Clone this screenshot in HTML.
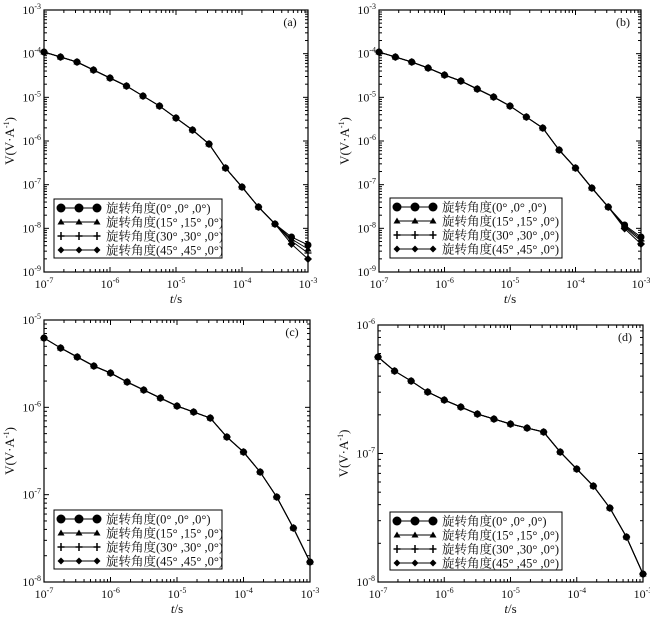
<!DOCTYPE html>
<html><head><meta charset="utf-8"><style>
body{margin:0;background:#fff}
svg{display:block}
text{font-family:"Liberation Serif","Times New Roman","Noto Serif CJK SC",serif;fill:#111}
</style></head><body>
<svg id="s" width="650" height="617" xmlns="http://www.w3.org/2000/svg"></svg>
<script>
const P=[
 {l:44,r:308,t:10,b:272,ymax:-3,ymin:-9,lab:'(a)',leg:[54,199,222,258],
  y:[52,57,62,70,78,86,96,106,118,130,144,168,187,207,224,239,249],end:[245,249,253,259]},
 {l:379,r:641,t:10,b:272,ymax:-3,ymin:-9,lab:'(b)',leg:[390,198,562,258],
  y:[52,57,62,68,75,81,89,97,106,117,128,150,168,188,207,226,239],end:[237,239,241,244]},
 {l:44,r:310,t:320,b:582,ymax:-5,ymin:-8,lab:'(c)',leg:[54,510,222,569],
  y:[338,348,357,366,373,382,390,398,406,412,418,437,452,472,497,528,562]},
 {l:378,r:643,t:325,b:582,ymax:-6,ymin:-8,lab:'(d)',leg:[390,512,562,570],
  y:[357,371,381,392,400,407,414,419,424,428,432,452,469,486,508,537,574]}
];
let h='';
const diam=(x,y,s)=>`<path d="M${x} ${y-s}L${x+s} ${y}L${x} ${y+s}L${x-s} ${y}Z" fill="#000"/>`;
for(const p of P){
 const W=p.r-p.l,H=p.b-p.t;
 h+=`<rect x="${p.l}" y="${p.t}" width="${W}" height="${H}" fill="none" stroke="#000" stroke-width="1.2"/>`;
 for(let d=0;d<=4;d++){
  const x=p.l+W*d/4;
  h+=`<line x1="${x}" y1="${p.b}" x2="${x}" y2="${p.b-5}" stroke="#000"/><line x1="${x}" y1="${p.t}" x2="${x}" y2="${p.t+5}" stroke="#000"/>`;
  h+=`<text x="${x}" y="${p.b+16}" font-size="12" text-anchor="middle">10<tspan font-size="8" dy="-5">${-7+d}</tspan></text>`;
  if(d<4)for(let m=2;m<10;m++){const xm=x+W/4*Math.log10(m);h+=`<line x1="${xm}" y1="${p.b}" x2="${xm}" y2="${p.b-3}" stroke="#000"/><line x1="${xm}" y1="${p.t}" x2="${xm}" y2="${p.t+3}" stroke="#000"/>`;}
 }
 const nd=p.ymax-p.ymin;
 for(let d=0;d<=nd;d++){
  const y=p.b-H*d/nd;
  h+=`<line x1="${p.l}" y1="${y}" x2="${p.l+5}" y2="${y}" stroke="#000"/><line x1="${p.r}" y1="${y}" x2="${p.r-5}" y2="${y}" stroke="#000"/>`;
  h+=`<text x="${p.l-3}" y="${y+4}" font-size="12" text-anchor="end">10<tspan font-size="8" dy="-5">${p.ymin+d}</tspan></text>`;
  if(d<nd)for(let m=2;m<10;m++){const ym=y-H/nd*Math.log10(m);h+=`<line x1="${p.l}" y1="${ym}" x2="${p.l+3}" y2="${ym}" stroke="#000"/><line x1="${p.r}" y1="${ym}" x2="${p.r-3}" y2="${ym}" stroke="#000"/>`;}
 }
 h+=`<text x="${(p.l+p.r)/2}" y="${p.b+31}" font-size="13" text-anchor="middle"><tspan font-style="italic">t</tspan>/s</text>`;
 const cy=(p.t+p.b)/2;
 h+=`<text transform="translate(${p.l-30},${cy}) rotate(-90)" font-size="13" text-anchor="middle">V(V·A<tspan font-size="8" dy="-5">-1</tspan><tspan dy="5">)</tspan></text>`;
 h+=`<text x="${p.r-18}" y="${p.t+16}" font-size="12" text-anchor="middle">${p.lab}</text>`;
 for(let s=0;s<4;s++){
  const pts=p.y.map((y,i)=>{let yy=y;if(p.end){const k=p.end[s]-p.y[16];if(i>=15)yy=y+k*(i-14)/2;}return [p.l+W*i/16,yy];});
  h+=`<polyline points="${pts.map(a=>a.join(',')).join(' ')}" fill="none" stroke="#000" stroke-width="1"/>`;
  for(const [x,y] of pts){
   if(s==0)h+=`<circle cx="${x}" cy="${y}" r="3.5" fill="#000"/>`;
   else if(s==1)h+=`<path d="M${x} ${y-3.5}L${x+3.5} ${y+2.5}L${x-3.5} ${y+2.5}Z" fill="#000"/>`;
   else if(s==2)h+=`<path d="M${x-3.5} ${y}H${x+3.5}M${x} ${y-3.5}V${y+3.5}" stroke="#000" stroke-width="1.3"/>`;
   else h+=diam(x,y,4);
  }
 }
 const [lx,ly,rx,by]=p.leg;
 h+=`<rect x="${lx}" y="${ly}" width="${rx-lx}" height="${by-ly}" fill="#fff" stroke="#000" stroke-width="1"/>`;
 const labs=['旋转角度(0° ,0° ,0°)','旋转角度(15° ,15° ,0°)','旋转角度(30° ,30° ,0°)','旋转角度(45° ,45° ,0°)'];
 for(let s=0;s<4;s++){
  const y=ly+9+s*14,x0=lx+7,x1=lx+43;
  h+=`<line x1="${x0}" y1="${y}" x2="${x1}" y2="${y}" stroke="#000"/>`;
  for(const x of [x0,(x0+x1)/2,x1]){
   if(s==0)h+=`<circle cx="${x}" cy="${y}" r="4.5" fill="#000"/>`;
   else if(s==1)h+=`<path d="M${x} ${y-3.5}L${x+3.5} ${y+2.5}L${x-3.5} ${y+2.5}Z" fill="#000"/>`;
   else if(s==2)h+=`<path d="M${x-3.5} ${y}H${x+3.5}M${x} ${y-4}V${y+4}" stroke="#000" stroke-width="1.5"/>`;
   else h+=diam(x,y,3.5);
  }
  h+=`<text x="${lx+52}" y="${y+4.5}" font-size="12.5">${labs[s]}</text>`;
 }
}
document.getElementById('s').innerHTML=h;
</script>
</body></html>
